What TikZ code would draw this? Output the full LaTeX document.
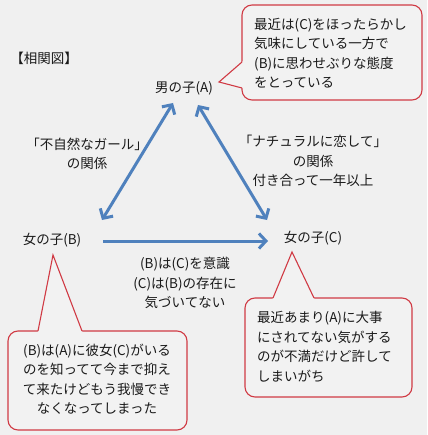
\documentclass[tikz,border=0pt]{standalone}
\usepackage{fontspec}
\setmainfont{Noto Sans CJK JP}
\usetikzlibrary{arrows.meta,calc}
\definecolor{bg}{HTML}{F0F0F0}
\definecolor{boxfill}{HTML}{F2F2F2}
\definecolor{calred}{HTML}{D03A44}
\definecolor{arrowblue}{HTML}{4F81BD}
\definecolor{ink}{HTML}{1A1A1A}
\tikzset{
  callout/.style={draw=calred, line width=1.1pt, fill=boxfill, rounded corners=10pt},
  calline/.style={draw=calred, line width=1.1pt, line join=miter},
  txt/.style={inner sep=0pt, text=ink},
  rel/.style={draw=arrowblue, line width=3pt},
  tip/.tip={Straight Barb[length=7pt,width=15pt,line width=3pt]}
}
\begin{document}
\begin{tikzpicture}[x=1pt,y=-1pt,font=\fontsize{13.5}{19.5}\selectfont]
\fill[bg] (0,0) rectangle (427,435);
\useasboundingbox (0,0) rectangle (427,435);

% callout A
\draw[callout] (242,5) rectangle (422,100);
\coordinate (ta) at (219,82);
\coordinate (a1) at (242,62);
\coordinate (a2) at (242,88);
\fill[boxfill] (ta) -- ($(ta)!1.15!(a1)$) -- ($(ta)!1.15!(a2)$) -- cycle;
\draw[calline] (a1) -- (ta) -- (a2);
\node[txt, anchor=west, align=left] (ca) at (254,53)
  {最近は(C)をほったらかし\\気味にしている一方で\\(B)に思わせぶりな態度\\をとっている};

% callout B
\draw[callout] (8,331) rectangle (187,430);
\coordinate (tb) at (53,255);
\coordinate (b1) at (38,331);
\coordinate (b2) at (82,331);
\fill[boxfill] (tb) -- ($(tb)!1.06!(b1)$) -- ($(tb)!1.06!(b2)$) -- cycle;
\draw[calline] (b1) -- (tb) -- (b2);
\node[txt, align=center] (cb) at (97,379)
  {(B)は(A)に彼女(C)がいる\\のを知ってて今まで抑え\\て来たけどもう我慢でき\\なくなってしまった};

% callout C
\draw[callout] (245,298) rectangle (412,397);
\coordinate (tc) at (292,252);
\coordinate (c1) at (273,298);
\coordinate (c2) at (314,298);
\fill[boxfill] (tc) -- ($(tc)!1.08!(c1)$) -- ($(tc)!1.08!(c2)$) -- cycle;
\draw[calline] (c1) -- (tc) -- (c2);
\node[txt, anchor=west, align=left] (cc) at (257,347)
  {最近あまり(A)に大事\\にされてない気がする\\のが不満だけど許して\\しまいがち};

% persons
\node[txt] (title) at (44,58) {【相関図】};
\node[txt] (A) at (184,88) {男の子(A)};
\node[txt] (B) at (52,240) {女の子(B)};
\node[txt] (C) at (313,238) {女の子(C)};

% relation labels
\node[txt, align=center] (lab) at (87,154) {「不自然なガール」\\の関係};
\node[txt, align=center] (lac) at (313,161) {「ナチュラルに恋して」\\の関係\\付き合って一年以上};
\node[txt, align=center] (lbc) at (185,283) {(B)は(C)を意識\\(C)は(B)の存在に\\気づいてない};

% arrows
\coordinate (ab1) at (173,103);
\coordinate (ab2) at (102,220);
\coordinate (ac1) at (198,105);
\coordinate (ac2) at (267,220);
\coordinate (bc1) at (103,241);
\coordinate (bc2) at (268,241);
\draw[rel, {tip}-{tip}] (ab1) -- (ab2);
\draw[rel, {tip}-{tip}] (ac1) -- (ac2);
\draw[rel, -{tip}] (bc1) -- (bc2);
\end{tikzpicture}
\end{document}
